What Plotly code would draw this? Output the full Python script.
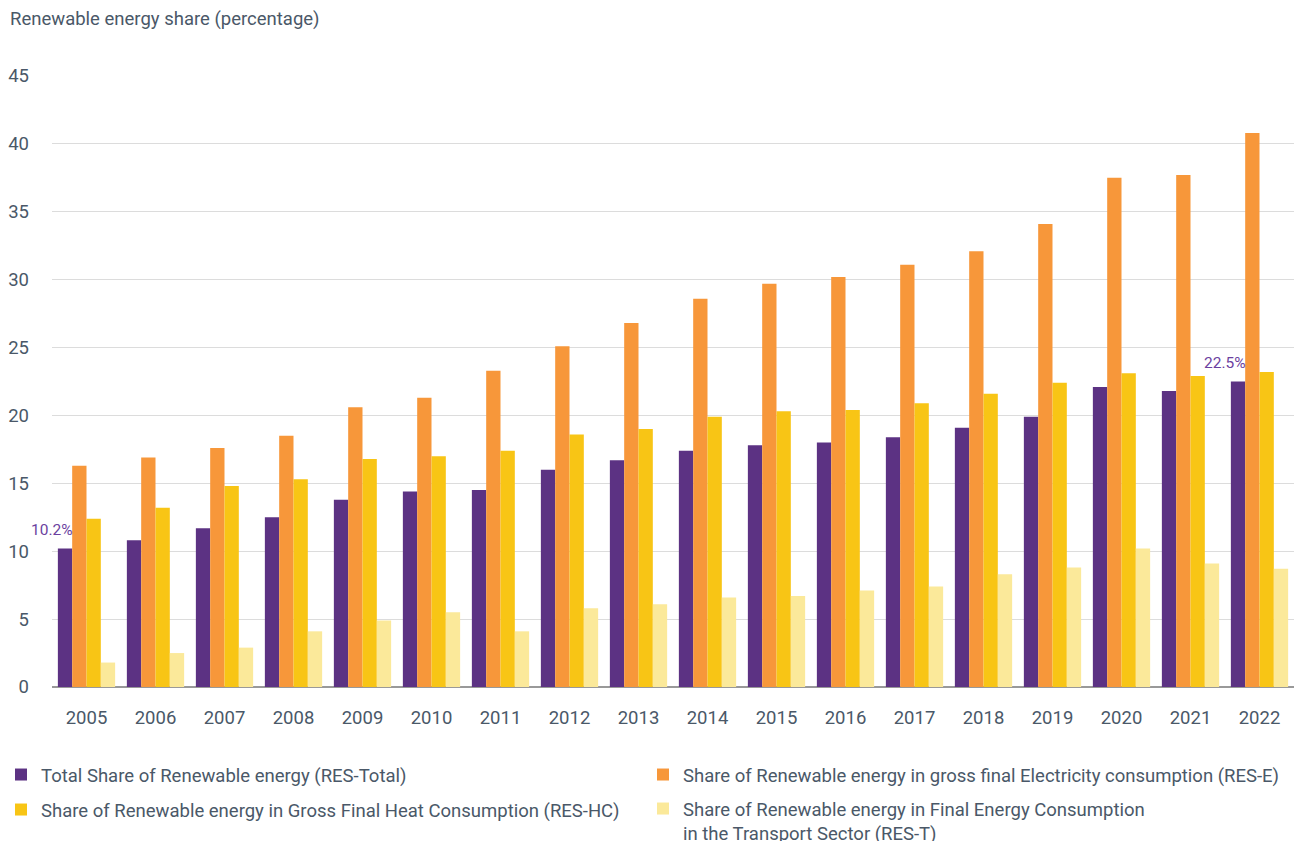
import plotly.graph_objects as go

years = ["2005", "2006", "2007", "2008", "2009", "2010", "2011", "2012", "2013",
         "2014", "2015", "2016", "2017", "2018", "2019", "2020", "2021", "2022"]
res_total = [10.2, 10.8, 11.7, 12.5, 13.8, 14.4, 14.5, 16.0, 16.7,
             17.4, 17.8, 18.0, 18.4, 19.1, 19.9, 22.1, 21.8, 22.5]
res_e = [16.3, 16.9, 17.6, 18.5, 20.6, 21.3, 23.3, 25.1, 26.8,
         28.6, 29.7, 30.2, 31.1, 32.1, 34.1, 37.5, 37.7, 40.8]
res_hc = [12.4, 13.2, 14.8, 15.3, 16.8, 17.0, 17.4, 18.6, 19.0,
          19.9, 20.3, 20.4, 20.9, 21.6, 22.4, 23.1, 22.9, 23.2]
res_t = [1.8, 2.5, 2.9, 4.1, 4.9, 5.5, 4.1, 5.8, 6.1,
         6.6, 6.7, 7.1, 7.4, 8.3, 8.8, 10.2, 9.1, 8.7]
labelled_years = ["2005", "2022"]
y_ticks = [0, 5, 10, 15, 20, 25, 30, 35, 40, 45]

names = [
    "Total Share of Renewable energy (RES-Total)",
    "Share of Renewable energy in gross final Electricity consumption (RES-E)",
    "Share of Renewable energy in Gross Final Heat Consumption (RES-HC)",
    "Share of Renewable energy in Final Energy Consumption<br>in the Transport Sector (RES-T)",
]
colors = ["#5c3283", "#f7973a", "#f8c515", "#fbe99a"]
series = [res_total, res_e, res_hc, res_t]
legend_ids = ["legend", "legend2", "legend3", "legend4"]

TEXT = "#4a5868"
FONT = "Roboto, 'Noto Sans', sans-serif"
FS = 18.5
W, H = 1296, 841

fig = go.Figure()
for name, vals, col, lg in zip(names, series, colors, legend_ids):
    fig.add_trace(go.Bar(x=years, y=vals, name=name, marker_color=col,
                         marker_line_width=0, legend=lg))

# data labels for the total share (first/last year)
for yr in labelled_years:
    i = years.index(yr)
    fig.add_annotation(x=i - 0.21, y=res_total[i], xref="x", yref="y",
                       text=f"{res_total[i]:.1f}%", showarrow=False,
                       xanchor="right", yanchor="bottom", xshift=3, yshift=8,
                       font=dict(family=FONT, size=15.5, color="#6b3fa0"))


def leg(xpx, ypx, valign="middle"):
    return dict(orientation="v", x=xpx / W, xref="container", xanchor="left",
                y=1 - ypx / H, yref="container", yanchor="top",
                font=dict(family=FONT, size=FS, color=TEXT),
                bgcolor="rgba(0,0,0,0)", valign=valign)


fig.update_layout(
    width=W, height=H,
    paper_bgcolor="white", plot_bgcolor="white",
    margin=dict(l=52, r=2, t=76, b=154, autoexpand=False),
    barmode="group", bargap=0.17, bargroupgap=0,
    font=dict(family=FONT, size=FS, color=TEXT),
    showlegend=True,
    legend=leg(1, 756),
    legend2=leg(643, 756),
    legend3=leg(1, 791),
    legend4=leg(643, 790, "top"),
)
fig.add_annotation(text="Renewable energy share (percentage)", xref="paper",
                   yref="paper", x=-44 / 1242, y=1.0, yshift=57,
                   xanchor="left", yanchor="middle", showarrow=False,
                   font=dict(family=FONT, size=FS, color=TEXT))
fig.update_xaxes(type="category", range=[-0.5, len(years) - 0.5],
                 autorange=False, showgrid=False, ticks="", showline=False,
                 automargin=False,
                 tickfont=dict(size=FS, color=TEXT), ticklabelstandoff=17)
fig.update_yaxes(range=[0, 45], autorange=False, tickvals=y_ticks,
                 showgrid=True, gridcolor="#dcdcdc", gridwidth=1,
                 zeroline=True, zerolinecolor="#999999", zerolinewidth=2,
                 ticks="", automargin=False,
                 tickfont=dict(size=FS, color=TEXT), ticklabelstandoff=22)

fig.write_html("out.html",
               config={"displayModeBar": False},
               post_script="document.body.style.margin='0';"
                           "document.body.style.overflow='hidden';")
